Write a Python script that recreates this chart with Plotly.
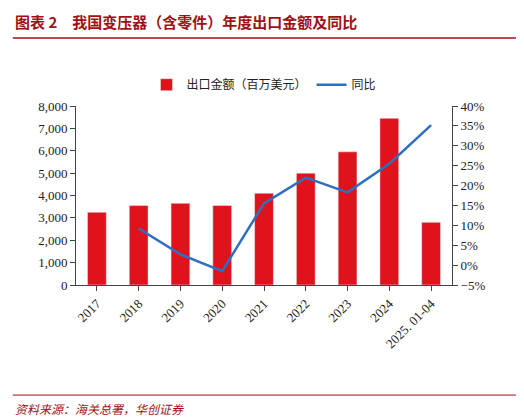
import plotly.graph_objects as go

# data
years = ["2017", "2018", "2019", "2020", "2021", "2022", "2023", "2024", "2025. 01-04"]
export_value = [3250, 3550, 3650, 3550, 4100, 5000, 5950, 7450, 2800]
yoy_years = years[1:]
yoy_pct = [9.2, 2.7, -1.5, 15.5, 22.0, 18.3, 25.5, 35.2]

font = "Noto Sans CJK SC"
serif = "Times New Roman, Liberation Serif"

fig = go.Figure()
fig.add_trace(go.Bar(x=years, y=export_value, name="出口金额（百万美元）",
                     marker_color="#e0121b", width=0.45))
fig.add_trace(go.Scatter(x=yoy_years, y=yoy_pct, name="同比", yaxis="y2",
                         mode="lines", line=dict(color="#2e6fc2", width=2.5)))

fig.update_layout(
    width=524, height=419,
    margin=dict(l=68, r=80, t=98, b=142),
    plot_bgcolor="white", paper_bgcolor="white",
    font=dict(family=font, size=12, color="#222"),
    legend=dict(orientation="h", x=0.5, xanchor="center", y=1.2, yanchor="top",
                font=dict(size=12)),
    xaxis=dict(tickangle=-45, showline=True, linecolor="#444", ticks="outside",
               tickcolor="#444", tickfont=dict(family=serif, size=13)),
    yaxis=dict(range=[0, 8000], dtick=1000, tickformat=",", showgrid=False,
               showline=True, linecolor="#444", ticks="outside", tickcolor="#444",
               tickfont=dict(family=serif, size=13)),
    yaxis2=dict(range=[-5, 40], dtick=5, ticksuffix="%", overlaying="y", side="right",
                showgrid=False, showline=True, linecolor="#444", ticks="outside",
                tickcolor="#444", zeroline=False, tickfont=dict(family=serif, size=13)),
)

fig.add_annotation(text="<b>图表 2　我国变压器（含零件）年度出口金额及同比</b>",
                   xref="paper", yref="paper", x=-0.168, y=1.47, yanchor="middle",
                   xanchor="left", showarrow=False,
                   font=dict(size=15, color="#a01016", family=font))
fig.add_shape(type="line", xref="paper", yref="paper", x0=-0.168, x1=1.2,
              y0=1.38, y1=1.38, line=dict(color="#a01016", width=1.5))
fig.add_shape(type="line", xref="paper", yref="paper", x0=-0.168, x1=1.2,
              y0=-0.615, y1=-0.615, line=dict(color="#a01016", width=1))
fig.add_annotation(text="<i>资料来源：海关总署，华创证券</i>", xref="paper", yref="paper",
                   x=-0.168, y=-0.63, xanchor="left", yanchor="top", showarrow=False,
                   font=dict(size=12, color="#a01016", family=font))

fig.write_html("out.html")
